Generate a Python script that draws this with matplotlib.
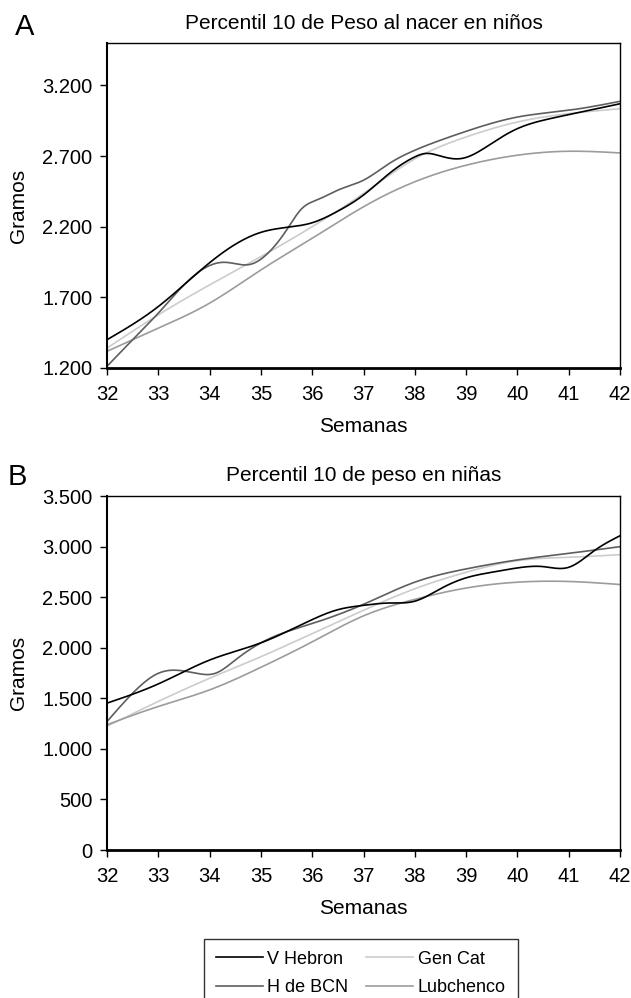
import numpy as np
import matplotlib
matplotlib.use("Agg")
import matplotlib.pyplot as plt
from matplotlib.ticker import FuncFormatter

plt.rcParams['font.family'] = ['Liberation Sans', 'DejaVu Sans']

weeks_ticks = list(range(32, 43))
legend_order = ["V Hebron", "H de BCN", "Gen Cat", "Lubchenco"]
colors = {"V Hebron": "#000000", "Gen Cat": "#cccccc", "H de BCN": "#5e5e5e", "Lubchenco": "#9c9c9c"}

# Panel A: boys
a_hebron_x = [32, 33, 34, 35, 35.5, 36, 36.5, 37, 37.5, 38, 38.2, 38.5, 38.9, 39.5, 40, 40.5, 41, 42]
a_hebron_y = [1400, 1635, 1945, 2160, 2195, 2228, 2310, 2424, 2576, 2694, 2718, 2700, 2682, 2790, 2894, 2953, 2993, 3070]
a_bcn_x = [32, 32.5, 33, 33.5, 34, 34.3, 34.8, 35.1, 35.5, 35.8, 36.1, 36.5, 37, 37.5, 38, 38.5, 39, 40, 41, 42]
a_bcn_y = [1212, 1400, 1588, 1788, 1925, 1948, 1934, 2000, 2176, 2329, 2390, 2459, 2529, 2647, 2741, 2812, 2875, 2976, 3024, 3087]
a_gencat_x = [32, 33, 34, 35, 36, 37, 38, 39, 40, 41, 42]
a_gencat_y = [1341, 1576, 1788, 1988, 2200, 2435, 2680, 2835, 2941, 3000, 3035]
a_lub_x = [32, 33, 34, 35, 36, 37, 38, 39, 40, 41, 42]
a_lub_y = [1318, 1482, 1659, 1894, 2118, 2341, 2518, 2635, 2706, 2734, 2722]

# Panel B: girls
b_hebron_x = [32, 33, 34, 35, 36, 36.5, 37, 37.5, 38, 38.5, 39, 39.5, 40, 40.5, 41, 41.5, 42]
b_hebron_y = [1452, 1642, 1878, 2048, 2278, 2376, 2419, 2442, 2460, 2583, 2691, 2746, 2789, 2802, 2795, 2960, 3107]
b_bcn_x = [32, 32.5, 33, 33.3, 33.8, 34.1, 34.5, 35, 36, 37, 38, 39, 40, 41, 42]
b_bcn_y = [1270, 1550, 1747, 1778, 1742, 1745, 1878, 2048, 2239, 2429, 2648, 2779, 2868, 2933, 2999]
b_gencat_x = [32, 33, 34, 35, 36, 37, 38, 39, 40, 41, 42]
b_gencat_y = [1223, 1469, 1698, 1911, 2140, 2370, 2583, 2746, 2861, 2894, 2920]
b_lub_x = [32, 33, 34, 35, 36, 37, 38, 39, 40, 41, 42]
b_lub_y = [1239, 1419, 1583, 1806, 2058, 2315, 2478, 2590, 2648, 2655, 2625]


def natural_spline(x, y, n=400):
    x = np.asarray(x, float)
    y = np.asarray(y, float)
    k = len(x)
    h = np.diff(x)
    A = np.zeros((k, k))
    r = np.zeros(k)
    A[0, 0] = 1
    A[-1, -1] = 1
    for i in range(1, k - 1):
        A[i, i - 1] = h[i - 1]
        A[i, i] = 2 * (h[i - 1] + h[i])
        A[i, i + 1] = h[i]
        r[i] = 3 * ((y[i + 1] - y[i]) / h[i] - (y[i] - y[i - 1]) / h[i - 1])
    c = np.linalg.solve(A, r)
    b = np.zeros(k - 1)
    d = np.zeros(k - 1)
    for i in range(k - 1):
        b[i] = (y[i + 1] - y[i]) / h[i] - h[i] * (2 * c[i] + c[i + 1]) / 3
        d[i] = (c[i + 1] - c[i]) / (3 * h[i])
    xs = np.linspace(x[0], x[-1], n)
    idx = np.clip(np.searchsorted(x, xs) - 1, 0, k - 2)
    dx = xs - x[idx]
    ys = y[idx] + b[idx] * dx + c[idx] * dx ** 2 + d[idx] * dx ** 3
    return xs, ys


fmt = FuncFormatter(lambda v, p: f"{int(v):,}".replace(",", "."))

fig = plt.figure(figsize=(6.31, 9.98), dpi=100)
axA = fig.add_axes([107 / 631, 1 - 368 / 998, 513 / 631, 325 / 998])
axB = fig.add_axes([107 / 631, 1 - 850 / 998, 513 / 631, 354 / 998])

panelA = [("V Hebron", a_hebron_x, a_hebron_y), ("Gen Cat", a_gencat_x, a_gencat_y),
          ("H de BCN", a_bcn_x, a_bcn_y), ("Lubchenco", a_lub_x, a_lub_y)]
panelB = [("V Hebron", b_hebron_x, b_hebron_y), ("Gen Cat", b_gencat_x, b_gencat_y),
          ("H de BCN", b_bcn_x, b_bcn_y), ("Lubchenco", b_lub_x, b_lub_y)]

draw_order = ["Gen Cat", "Lubchenco", "H de BCN", "V Hebron"]
handles = {}
for ax, panel in ((axA, panelA), (axB, panelB)):
    d = {n: (x, y) for n, x, y in panel}
    for n in draw_order:
        xs, ys = natural_spline(*d[n])
        ln, = ax.plot(xs, ys, color=colors[n], lw=1.2, label=n)
        handles[n] = ln
    ax.set_xlim(32, 42)
    ax.set_xticks(weeks_ticks)
    ax.yaxis.set_major_formatter(fmt)
    ax.tick_params(direction='out', length=5, width=1, labelsize=14.5)
    ax.tick_params(axis='x', pad=7.5)
    ax.tick_params(axis='y', pad=5.5)
    ax.set_xlabel("Semanas", fontsize=15, labelpad=9)
    ax.set_ylabel("Gramos", fontsize=15, labelpad=10)
    for s in ax.spines.values():
        s.set_linewidth(1.0)
    ax.spines['bottom'].set_linewidth(2.0)
    ax.spines['left'].set_linewidth(1.5)

axA.set_ylim(1200, 3500)
axA.set_yticks([1200, 1700, 2200, 2700, 3200])
axB.set_ylim(0, 3500)
axB.set_yticks(list(range(0, 3501, 500)))

axA.set_title("Percentil 10 de Peso al nacer en niños", fontsize=15, pad=10)
axB.set_title("Percentil 10 de peso en niñas", fontsize=15, pad=11)
fig.text(25 / 631, 1 - 27 / 998, "A", fontsize=21, va='center', ha='center')
fig.text(17 / 631, 1 - 477 / 998, "B", fontsize=21, va='center', ha='center')

leg = fig.legend([handles[n] for n in legend_order], legend_order, ncol=2,
                 loc='upper left', bbox_to_anchor=(204 / 631, 1 - 939 / 998),
                 frameon=True, fancybox=False, edgecolor='black', fontsize=13,
                 handlelength=2.6, columnspacing=1.0, handletextpad=0.25,
                 borderpad=0.65, labelspacing=0.62, borderaxespad=0)
leg.get_frame().set_linewidth(1.0)

fig.savefig("out.png", dpi=100)
